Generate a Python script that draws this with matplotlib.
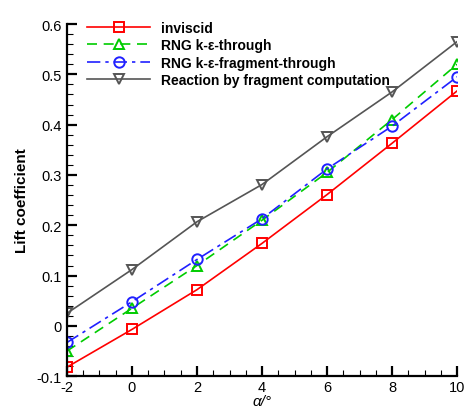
import matplotlib
matplotlib.use("Agg")
import matplotlib.pyplot as plt
from matplotlib.ticker import MultipleLocator, FuncFormatter

plt.rcParams['font.family'] = ['Liberation Sans', 'DejaVu Sans']

alpha = [-2, 0, 2, 4, 6, 8, 10]
inviscid = [-0.082, -0.007, 0.072, 0.164, 0.261, 0.363, 0.467]
rng_through = [-0.050, 0.035, 0.120, 0.210, 0.305, 0.410, 0.520]
rng_frag = [-0.033, 0.048, 0.132, 0.213, 0.312, 0.397, 0.495]
reaction = [0.025, 0.112, 0.207, 0.281, 0.376, 0.465, 0.565]

fig = plt.figure(figsize=(4.65, 4.10), dpi=100)
ax = fig.add_axes([0.144, 0.08, 0.839, 0.859])

mk = dict(markerfacecolor='none', markersize=7.5, markeredgewidth=1.4, linewidth=1.2)
ax.plot(alpha, inviscid, '-', color='#ff0000', marker='s', label='inviscid', **mk)
ax.plot(alpha, rng_through, '--', color='#00cc00', marker='^', label='RNG k-ε-through',
        dashes=(6, 4), **mk)
ax.plot(alpha, rng_frag, '-.', color='#2020ff', marker='o', label='RNG k-ε-fragment-through',
        dashes=(8, 3, 2, 3), **mk)
ax.plot(alpha, reaction, '-', color='#555555', marker='v',
        label='Reaction by fragment computation', **mk)

ax.set_xlim(-2, 10)
ax.set_ylim(-0.1, 0.6)
ax.xaxis.set_major_locator(MultipleLocator(2))
ax.xaxis.set_minor_locator(MultipleLocator(0.5))
ax.yaxis.set_major_locator(MultipleLocator(0.1))
ax.yaxis.set_minor_locator(MultipleLocator(0.02))
ax.xaxis.set_major_formatter(FuncFormatter(lambda v, p: f'{v:g}'))
ax.yaxis.set_major_formatter(FuncFormatter(lambda v, p: f'{v:g}'))

for s in ['top', 'right']:
    ax.spines[s].set_visible(False)
for s in ['left', 'bottom']:
    ax.spines[s].set_linewidth(1.6)
ax.tick_params(which='major', direction='in', length=7, width=1.6, labelsize=10.5)
ax.tick_params(which='minor', direction='in', length=4, width=0.8)
ax.tick_params(axis='x', pad=2.5)

ax.set_xlabel('α/°', fontsize=11, style='italic', labelpad=0)
ax.set_ylabel('Lift coefficient', fontsize=11, fontweight='bold', labelpad=6)

ax.legend(loc='upper left', bbox_to_anchor=(0.02, 1.045), frameon=False,
          prop={'weight': 'bold', 'size': 10}, handlelength=4.5, labelspacing=0.25,
          handletextpad=0.8)

fig.savefig('out.png', dpi=100)
